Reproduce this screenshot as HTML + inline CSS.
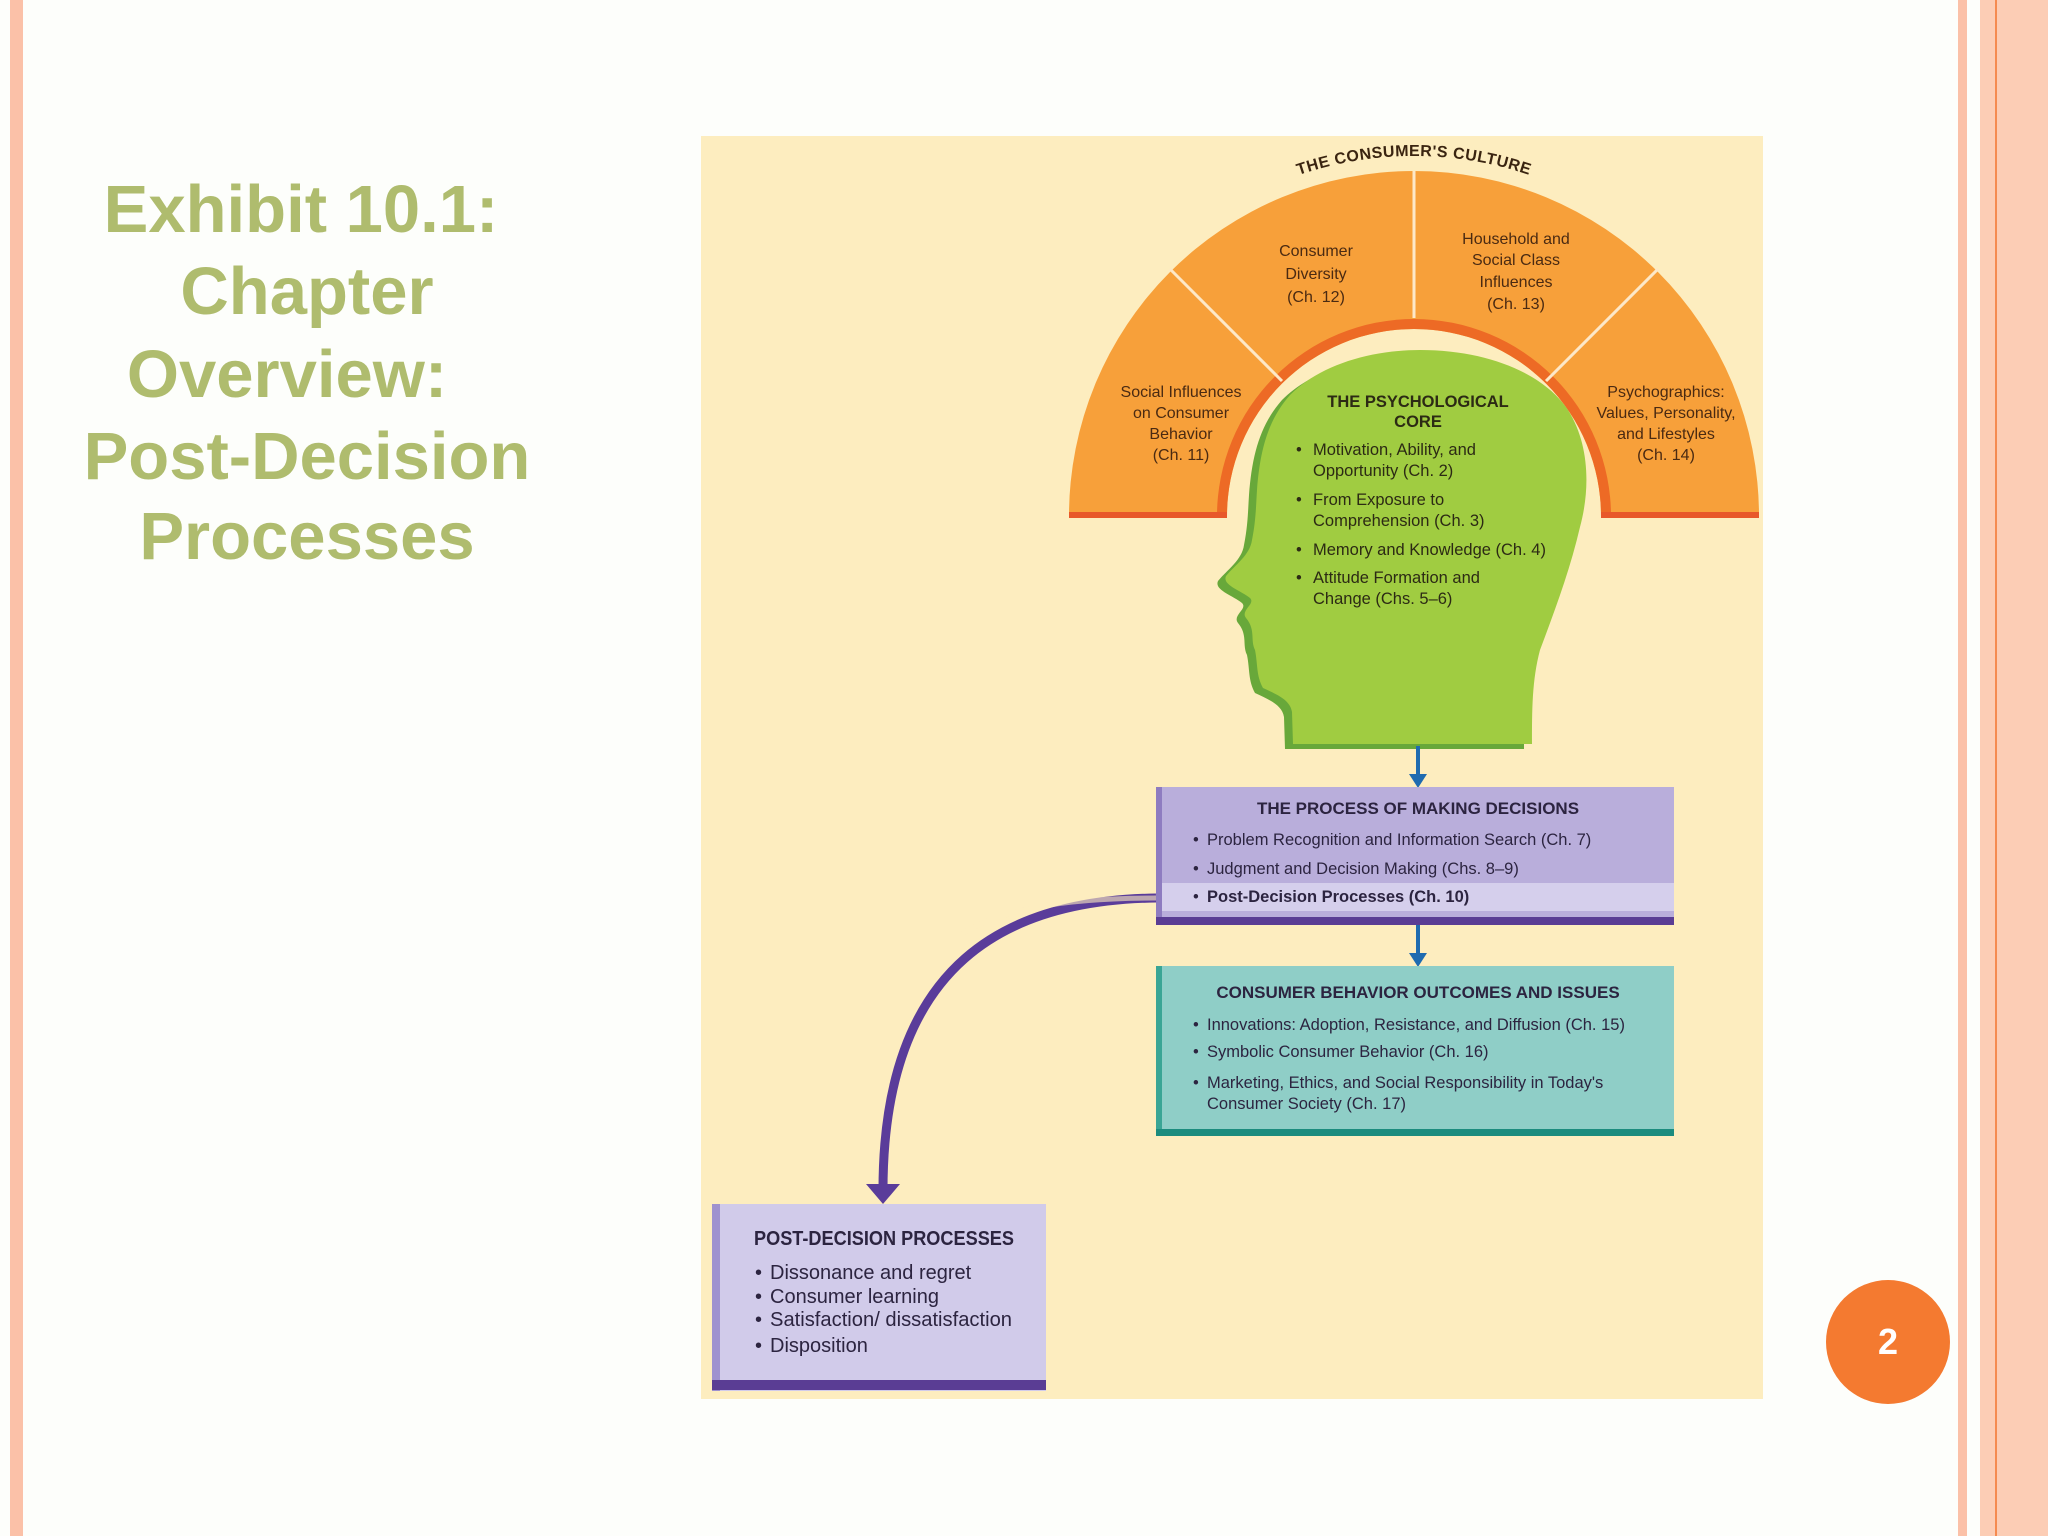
<!DOCTYPE html>
<html><head><meta charset="utf-8"><style>
html,body{margin:0;padding:0}
body{width:2048px;height:1536px;position:relative;overflow:hidden;background:#fdfefb;font-family:"Liberation Sans",sans-serif}
.t{position:absolute;left:0;width:614px;text-align:center;font-weight:bold;font-size:67px;color:#afbc6e;line-height:1}
</style></head><body>
<div style="position:absolute;left:10px;top:0;width:13px;height:1536px;background:#fbc1a8"></div>
<div style="position:absolute;left:1958px;top:0;width:9px;height:1536px;background:#fbc1a8"></div>
<div style="position:absolute;left:1980px;top:0;width:68px;height:1536px;background:#fccdb5"></div>
<div style="position:absolute;left:1995px;top:0;width:2px;height:1536px;background:#f58b50"></div>

<div class="t" style="top:176px;left:-6px">Exhibit 10.1:</div>
<div class="t" style="top:258px">Chapter</div>
<div class="t" style="top:341px;left:-20px">Overview:</div>
<div class="t" style="top:423px">Post-Decision</div>
<div class="t" style="top:503px">Processes</div>

<div style="position:absolute;left:1826px;top:1280px;width:124px;height:124px;border-radius:50%;background:#f47a30;color:#fff;font-weight:bold;font-size:36px;text-align:center;line-height:124px">2</div>

<svg style="position:absolute;left:0;top:0" width="2048" height="1536" viewBox="0 0 2048 1536">
<rect x="701" y="136" width="1062" height="1263" fill="#fdedbf"/>
<defs><path id="arc" d="M1054,516 A360,360 0 0 1 1774,516"/></defs>
<text font-family="Liberation Sans, sans-serif" font-weight="bold" font-size="16" fill="#3a2410" letter-spacing="0.5"><textPath href="#arc" startOffset="50%" text-anchor="middle">THE CONSUMER'S CULTURE</textPath></text>
<!-- arch -->
<path d="M1069,516 A345,345 0 0 1 1759,516 L1601,516 A187,187 0 0 0 1227,516 Z" fill="#f7a03a"/>
<path d="M1217,516 A197,197 0 0 1 1611,516 L1601,516 A187,187 0 0 0 1227,516 Z" fill="#ed6a25"/>
<rect x="1069" y="512" width="158" height="6" fill="#e8582a"/>
<rect x="1601" y="512" width="158" height="6" fill="#e8582a"/>
<g stroke="#fde8c8" stroke-width="3">
<line x1="1414" y1="318" x2="1414" y2="171"/>
<line x1="1282" y1="381" x2="1170" y2="269"/>
<line x1="1546" y1="381" x2="1658" y2="269"/>
</g>
<g font-family="Liberation Sans, sans-serif" font-size="16" fill="#4a2a12" text-anchor="middle">
<text x="1181" y="397">Social Influences</text><text x="1181" y="418">on Consumer</text><text x="1181" y="439">Behavior</text><text x="1181" y="460">(Ch. 11)</text>
<text x="1316" y="256">Consumer</text><text x="1316" y="279">Diversity</text><text x="1316" y="302">(Ch. 12)</text>
<text x="1516" y="244">Household and</text><text x="1516" y="265">Social Class</text><text x="1516" y="287">Influences</text><text x="1516" y="309">(Ch. 13)</text>
<text x="1666" y="397">Psychographics:</text><text x="1666" y="418">Values, Personality,</text><text x="1666" y="439">and Lifestyles</text><text x="1666" y="460">(Ch. 14)</text>
</g>
<!-- head -->
<defs><path id="hp" d="M1420,350 C1490,350 1545,375 1568,410 C1590,445 1590,490 1580,527 C1570,570 1555,610 1540,650 C1532,680 1532,710 1532,744 L1293,744 L1292,712 C1290,700 1278,695 1263,688 C1256,675 1258,665 1255,650 C1250,640 1256,630 1246,618 C1240,610 1256,604 1250,598 C1240,590 1222,585 1226,576 C1235,565 1250,555 1252,540 C1256,520 1256,505 1257,490 C1260,450 1268,420 1290,395 C1320,365 1370,350 1420,350 Z"/></defs>
<use href="#hp" transform="translate(-8,5)" fill="#68a83a"/>
<use href="#hp" fill="#a0cc41"/>
<g font-family="Liberation Sans, sans-serif" font-size="16.5" fill="#2c2a14">
<text x="1418" y="407" text-anchor="middle" font-weight="bold">THE PSYCHOLOGICAL</text>
<text x="1418" y="427" text-anchor="middle" font-weight="bold">CORE</text>
<text x="1296" y="455">•</text><text x="1313" y="455">Motivation, Ability, and</text><text x="1313" y="476">Opportunity (Ch. 2)</text>
<text x="1296" y="505">•</text><text x="1313" y="505">From Exposure to</text><text x="1313" y="526">Comprehension (Ch. 3)</text>
<text x="1296" y="555">•</text><text x="1313" y="555">Memory and Knowledge (Ch. 4)</text>
<text x="1296" y="583">•</text><text x="1313" y="583">Attitude Formation and</text><text x="1313" y="604">Change (Chs. 5–6)</text>
</g>
<!-- blue arrows -->
<g fill="#1f6bb0"><rect x="1416" y="746" width="4" height="32"/><polygon points="1409,774 1427,774 1418,788"/>
<rect x="1416" y="925" width="4" height="32"/><polygon points="1409,953 1427,953 1418,967"/></g>
<!-- process box -->
<rect x="1156" y="787" width="518" height="138" fill="#b9aedb"/>
<rect x="1156" y="883" width="518" height="28" fill="#d5cfec"/>
<rect x="1156" y="787" width="6" height="138" fill="#8e7cc0"/>
<rect x="1156" y="917" width="518" height="8" fill="#5a3d94"/>
<!-- consumer box -->
<rect x="1156" y="966" width="518" height="170" fill="#8fcec7"/>
<rect x="1156" y="966" width="6" height="170" fill="#3aa595"/>
<rect x="1156" y="1129" width="518" height="7" fill="#1c8c7e"/>
<!-- post box -->
<rect x="712" y="1204" width="334" height="187" fill="#d1cbea"/>
<rect x="712" y="1204" width="8" height="187" fill="#9f92cf"/>
<rect x="712" y="1380" width="334" height="10" fill="#5a3d94"/>
<!-- curve arrow -->
<path d="M1156,898 C1010,900 883,960 883,1190" fill="none" stroke="#5a3c9a" stroke-width="9"/>
<path d="M1156,898 C1060,898 1000,910 960,935" fill="none" stroke="#fdedbf" stroke-width="5" opacity="0.6"/>
<polygon points="866,1184 900,1184 883,1204" fill="#5a3c9a"/>
<g font-family="Liberation Sans, sans-serif" fill="#2c2440">
<text x="1418" y="814" text-anchor="middle" font-weight="bold" font-size="17">THE PROCESS OF MAKING DECISIONS</text>
<g font-size="16.5"><text x="1193" y="845">•</text><text x="1207" y="845">Problem Recognition and Information Search (Ch. 7)</text>
<text x="1193" y="874">•</text><text x="1207" y="874">Judgment and Decision Making (Chs. 8–9)</text>
<text x="1193" y="902">•</text><text x="1207" y="902" font-weight="bold">Post-Decision Processes (Ch. 10)</text></g>
<text x="1418" y="998" text-anchor="middle" font-weight="bold" font-size="17">CONSUMER BEHAVIOR OUTCOMES AND ISSUES</text>
<g font-size="16.5"><text x="1193" y="1030">•</text><text x="1207" y="1030">Innovations: Adoption, Resistance, and Diffusion (Ch. 15)</text>
<text x="1193" y="1057">•</text><text x="1207" y="1057">Symbolic Consumer Behavior (Ch. 16)</text>
<text x="1193" y="1088">•</text><text x="1207" y="1088">Marketing, Ethics, and Social Responsibility in Today's</text>
<text x="1207" y="1109">Consumer Society (Ch. 17)</text></g>
<text x="754" y="1245" font-weight="bold" font-size="20" textLength="260" lengthAdjust="spacingAndGlyphs">POST-DECISION PROCESSES</text>
<g font-size="20"><text x="755" y="1279">•</text><text x="770" y="1279">Dissonance and regret</text>
<text x="755" y="1303">•</text><text x="770" y="1303">Consumer learning</text>
<text x="755" y="1326">•</text><text x="770" y="1326" textLength="242" lengthAdjust="spacingAndGlyphs">Satisfaction/ dissatisfaction</text>
<text x="755" y="1352">•</text><text x="770" y="1352">Disposition</text></g>
</g>
</svg>
</body></html>
